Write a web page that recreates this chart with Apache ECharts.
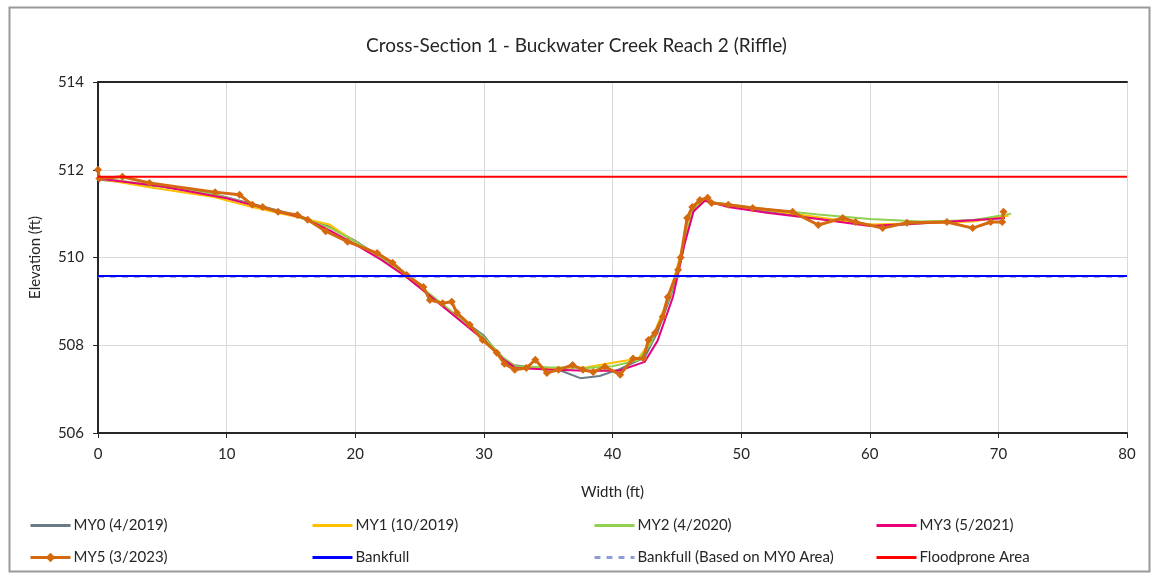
<!DOCTYPE html>
<html>
<head>
<meta charset="utf-8">
<title>Cross-Section 1 - Buckwater Creek Reach 2 (Riffle)</title>
<script src="https://cdn.jsdelivr.net/npm/echarts@6/dist/echarts.min.js"></script>
<style>
  html, body { margin: 0; padding: 0; background: #fff; }
  #chart { width: 1153px; height: 575px; }
</style>
</head>
<body>
<div id="chart"></div>
<script>
// Survey stations: [width (ft), elevation (ft)]
const my0 = [[0,511.78],[4,511.65],[9,511.45],[12,511.22],[15,511.0],[18,510.7],[20,510.38],[22,510.0],[24,509.58],[26,509.1],[28,508.65],[30,508.22],[31,507.85],[32,507.55],[34,507.5],[36,507.42],[37.5,507.25],[39,507.3],[40.5,507.45],[42.5,507.72],[43.5,508.3],[44.5,509.1],[45.3,509.9],[46,510.95],[47,511.3],[48,511.25],[51,511.1],[54,510.98],[57,510.85],[61,510.72],[65,510.8],[70.5,510.9]];
const my1 = [[0,511.8],[4,511.6],[9,511.38],[12,511.15],[15,510.95],[18,510.75],[20,510.35],[22,509.98],[24,509.55],[26,509.1],[28,508.65],[30,508.15],[31.5,507.7],[32.5,507.5],[35,507.48],[38,507.5],[40,507.6],[42,507.7],[43,508.1],[44.5,509.2],[45.5,510.3],[46.2,511.1],[47,511.3],[49,511.18],[52,511.08],[56,510.92],[60,510.75],[64,510.78],[68,510.82],[70.8,510.95]];
const my2 = [[0,511.82],[4,511.66],[9,511.44],[12,511.2],[15,510.98],[18,510.68],[20,510.36],[22,510.0],[24,509.58],[26,509.12],[28,508.65],[30,508.18],[31.5,507.72],[32.5,507.52],[35,507.5],[38,507.48],[40,507.52],[42,507.66],[43,508.05],[44.5,509.15],[45.5,510.25],[46.2,511.05],[47,511.3],[48,511.25],[52,511.1],[56,510.98],[60,510.88],[64,510.82],[68,510.85],[71,511.0]];
const my3 = [[0,511.8],[5,511.62],[10,511.35],[13,511.12],[16,510.9],[18,510.62],[20,510.3],[22,509.95],[24,509.55],[26,509.08],[28,508.6],[30,508.12],[31.5,507.68],[32.5,507.48],[35,507.45],[38,507.42],[40.5,507.42],[42.5,507.62],[43.5,508.1],[44.7,509.1],[45.6,510.3],[46.3,511.05],[47.2,511.3],[49,511.15],[52,511.02],[56,510.88],[60,510.72],[64,510.78],[68,510.85],[70.5,510.9]];
const my5 = [[0,512.0],[0.1,511.8],[1.9,511.84],[4.0,511.7],[9.1,511.49],[11.0,511.43],[12.0,511.2],[12.8,511.15],[14.0,511.04],[15.5,510.97],[16.3,510.86],[17.7,510.6],[19.4,510.36],[21.7,510.1],[22.9,509.88],[24.0,509.6],[25.3,509.33],[25.8,509.03],[26.8,508.96],[27.5,508.99],[27.9,508.74],[28.9,508.47],[29.9,508.12],[31.0,507.83],[31.6,507.58],[32.4,507.44],[33.3,507.48],[34.0,507.67],[34.9,507.37],[35.8,507.44],[36.9,507.55],[37.7,507.44],[38.5,507.39],[39.4,507.51],[40.6,507.33],[41.6,507.7],[42.4,507.7],[42.8,508.12],[43.3,508.28],[43.9,508.65],[44.3,509.1],[45.1,509.72],[45.3,510.0],[45.8,510.9],[46.2,511.15],[46.8,511.31],[47.4,511.36],[47.7,511.24],[49.0,511.2],[50.9,511.13],[54.0,511.04],[56.0,510.74],[57.9,510.9],[58.9,510.81],[61.0,510.67],[62.9,510.79],[66.0,510.81],[68.0,510.67],[69.4,510.81],[70.3,510.81],[70.4,511.04]];

// Reference elevations and the width range they span
const bankfullElev = 509.58;
const bankfullMY0Elev = 509.56;
const floodproneElev = 511.84;
const levelSpan = [0, 80];

// Axis setup
const xTicks = { min: 0, max: 80, step: 10 };
const yTicks = { min: 506, max: 514, step: 2 };

const seriesNames = ['MY0 (4/2019)', 'MY1 (10/2019)', 'MY2 (4/2020)', 'MY3 (5/2021)', 'MY5 (3/2023)', 'Bankfull', 'Bankfull (Based on MY0 Area)', 'Floodprone Area'];

const FONT = 'Lato, "Open Sans", sans-serif';
const level = (e) => levelSpan.map(w => [w, e]);

const chart = echarts.init(document.getElementById('chart'), null, { renderer: 'canvas' });

// Legend laid out as two rows of four columns; only MY5 carries a marker
const legendCols = [24, 306, 588, 870];
const legendRows = [513, 545];
const legends = seriesNames.map((name, i) => ({
  data: [name],
  left: legendCols[i % 4],
  top: legendRows[Math.floor(i / 4)],
  itemWidth: 40,
  itemHeight: 12,
  itemGap: 0,
  itemStyle: name === 'MY5 (3/2023)' ? {} : { opacity: 0 },
  lineStyle: { width: 3 },
  textStyle: { fontFamily: FONT, fontSize: 15, color: '#262626', padding: [0, 0, 0, -2] },
  selectedMode: false
}));

function curve(name, data, color, width) {
  return {
    name, type: 'line', data, symbol: 'none', smooth: false,
    lineStyle: { color, width }, itemStyle: { color }, z: 3, animation: false
  };
}

chart.setOption({
  backgroundColor: '#ffffff',
  animation: false,
  title: {
    text: 'Cross-Section 1 - Buckwater Creek Reach 2 (Riffle)',
    left: 'center', top: 31,
    textStyle: { fontFamily: FONT, fontSize: 19, fontWeight: 'normal', color: '#262626' }
  },
  legend: legends,
  graphic: [{
    type: 'rect', left: 7, top: 5, silent: true,
    shape: { width: 1140, height: 564 },
    style: { fill: 'none', stroke: '#9a9a9a', lineWidth: 2 }
  }],
  grid: { left: 98, top: 82, right: 26, bottom: 142, containLabel: false },
  xAxis: [{
    type: 'value', min: xTicks.min, max: xTicks.max, interval: xTicks.step,
    name: 'Width (ft)', nameLocation: 'middle', nameGap: 52,
    nameTextStyle: { fontFamily: FONT, fontSize: 15, color: '#262626' },
    axisLine: { show: true, onZero: false, lineStyle: { color: '#262626', width: 2 } },
    axisTick: { show: true, inside: false, length: 5, lineStyle: { color: '#262626' } },
    axisLabel: { fontFamily: FONT, fontSize: 15, color: '#262626', margin: 14 },
    splitLine: { show: true, lineStyle: { color: '#d9d9d9', width: 1 } }
  }, {
    type: 'value', position: 'top', min: xTicks.min, max: xTicks.max,
    axisLine: { show: true, lineStyle: { color: '#262626', width: 2 } },
    axisTick: { show: false }, axisLabel: { show: false }, splitLine: { show: false }
  }],
  yAxis: {
    type: 'value', min: yTicks.min, max: yTicks.max, interval: yTicks.step,
    name: 'Elevation (ft)', nameLocation: 'middle', nameGap: 55, nameRotate: 90,
    nameTextStyle: { fontFamily: FONT, fontSize: 15, color: '#262626' },
    axisLine: { show: true, lineStyle: { color: '#262626', width: 2 } },
    axisTick: { show: true, inside: false, length: 5, lineStyle: { color: '#262626' } },
    axisLabel: { fontFamily: FONT, fontSize: 15, color: '#262626', margin: 14 },
    splitLine: { show: true, lineStyle: { color: '#d9d9d9', width: 1 } }
  },
  series: [
    curve(seriesNames[0], my0, '#6b7b86', 2),
    curve(seriesNames[1], my1, '#ffc000', 2),
    curve(seriesNames[2], my2, '#92d050', 2),
    curve(seriesNames[3], my3, '#e6007e', 2),
    {
      name: seriesNames[4], type: 'line', data: my5,
      symbol: 'diamond', symbolSize: 8, showSymbol: true,
      lineStyle: { color: '#d4690f', width: 3 },
      itemStyle: { color: '#d4690f' }, z: 4
    },
    {
      name: seriesNames[5], type: 'line', data: level(bankfullElev), symbol: 'none',
      lineStyle: { color: '#0000ff', width: 2 }, itemStyle: { color: '#0000ff' }, z: 5
    },
    {
      name: seriesNames[6], type: 'line', data: level(bankfullMY0Elev), symbol: 'none',
      lineStyle: { color: '#8f9fd6', width: 2, type: [6, 6] }, itemStyle: { color: '#8f9fd6' }, z: 4
    },
    {
      name: seriesNames[7], type: 'line', data: level(floodproneElev), symbol: 'none',
      lineStyle: { color: '#ff0000', width: 2 }, itemStyle: { color: '#ff0000' }, z: 5
    }
  ]
});
</script>
</body>
</html>
